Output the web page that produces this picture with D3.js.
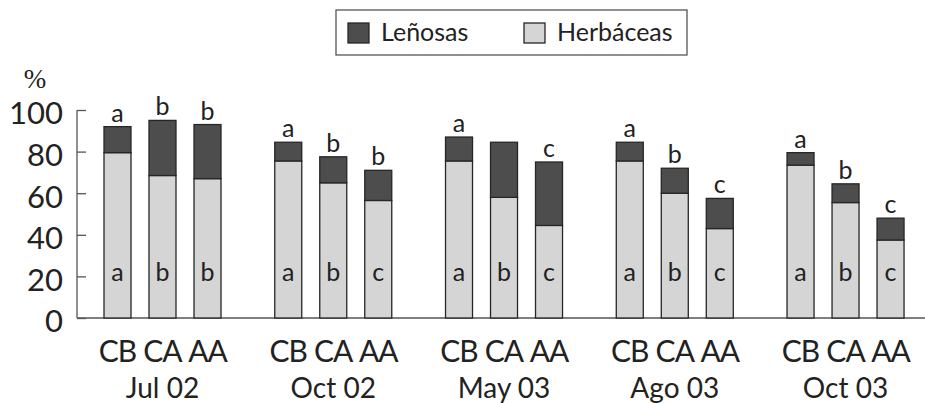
<!DOCTYPE html>
<html><head><meta charset="utf-8">
<script src="https://cdn.jsdelivr.net/npm/d3@7"></script>
<style>body{margin:0;background:#fff}svg{display:block}</style>
</head><body>
<svg id="c" width="925" height="403"></svg>
<script>
const groups = ["Jul 02","Oct 02","May 03","Ago 03","Oct 03"];
const treatments = ["CB","CA","AA"];
const herbaceas = [[79.5,68.5,67],[75.5,65,56.5],[75.5,58,44.5],[75.5,60,43],[73.5,55.5,37.5]];
const lenosas  = [[12.5,26.5,26],[9,12.5,14.5],[11.5,26.5,30.5],[9,12,14.5],[6,9,10.5]];
const topLetters = [["a","b","b"],["a","b","b"],["a","","c"],["a","b","c"],["a","b","c"]];
const inLetters  = [["a","b","b"],["a","b","c"],["a","b","c"],["a","b","c"],["a","b","c"]];
const yTicks = [0,20,40,60,80,100];
const seriesNames = ["Leñosas","Herbáceas"];

const DARK="#4d4d4d", LIGHT="#d5d5d5", EDGE="#262626";
const font="Lato, 'Open Sans', sans-serif";
const svg=d3.select("#c");

const y=d3.scaleLinear().domain([0,100]).range([318,110]);
const x0=d3.scaleBand().domain(groups).range([77.1,930.9]).padding(0);
const x1=d3.scaleBand().domain(treatments).range([17.9,152.9]).paddingInner(0.4).paddingOuter(0.2);

// y axis
const yAxis=d3.axisLeft(y).tickValues(yTicks).tickSize(-9).tickPadding(0).tickFormat(d3.format("d"));
const ga=svg.append("g").attr("transform","translate(77,0)").call(yAxis);
ga.select(".domain").attr("d",`M0,${y(100)}V${y(0)}`).attr("stroke","#555").attr("stroke-width",1.3);
ga.selectAll(".tick line").attr("stroke","#555").attr("stroke-width",1.3);
ga.selectAll(".tick text").attr("x",-14).attr("dy","0.45em").attr("font-family",font).attr("font-size",31).attr("fill","#222");

// baseline
svg.append("line").attr("x1",77).attr("x2",925).attr("y1",y(0)).attr("y2",y(0)).attr("stroke","#555").attr("stroke-width",1.5);

// bars
const data=[];
groups.forEach((g,i)=>treatments.forEach((t,j)=>data.push({g,t,h:herbaceas[i][j],l:lenosas[i][j],top:topLetters[i][j],inn:inLetters[i][j]})));
const gb=svg.append("g");
const bx=d=>x0(d.g)+x1(d.t);
gb.selectAll("rect.h").data(data).join("rect").attr("class","h")
  .attr("x",bx).attr("width",x1.bandwidth()).attr("y",d=>y(d.h)).attr("height",d=>y(0)-y(d.h))
  .attr("fill",LIGHT).attr("stroke",EDGE).attr("stroke-width",1.3);
gb.selectAll("rect.l").data(data).join("rect").attr("class","l")
  .attr("x",bx).attr("width",x1.bandwidth()).attr("y",d=>y(d.h+d.l)).attr("height",d=>y(d.h)-y(d.h+d.l))
  .attr("fill",DARK).attr("stroke",EDGE).attr("stroke-width",1.3);
gb.selectAll("text.top").data(data).join("text").attr("class","top")
  .attr("x",d=>bx(d)+x1.bandwidth()/2).attr("y",d=>y(d.h+d.l)-5).attr("text-anchor","middle")
  .attr("font-family",font).attr("font-size",25).attr("fill","#222").text(d=>d.top);
gb.selectAll("text.in").data(data).join("text").attr("class","in")
  .attr("x",d=>bx(d)+x1.bandwidth()/2).attr("y",281).attr("text-anchor","middle")
  .attr("font-family",font).attr("font-size",25).attr("fill","#222").text(d=>d.inn);

// x labels
const gx=svg.append("g");
data.forEach(d=>{
  gx.append("text").attr("x",bx(d)+x1.bandwidth()/2).attr("y",362).attr("text-anchor","middle")
   .attr("font-family",font).attr("font-size",30).attr("fill","#222").attr("letter-spacing",-1).text(d.t);
});
groups.forEach(g=>{
  gx.append("text").attr("x",x0(g)+x0.bandwidth()/2).attr("y",398).attr("text-anchor","middle")
   .attr("font-family",font).attr("font-size",28).attr("fill","#222").text(g);
});

// % label
svg.append("text").attr("x",35).attr("y",88).attr("text-anchor","middle")
  .attr("font-family","'Liberation Serif', serif").attr("font-size",27).attr("fill","#222").text("%");

// legend
const lg=svg.append("g");
lg.append("rect").attr("x",336).attr("y",10).attr("width",351).attr("height",45).attr("fill","#fff").attr("stroke","#555").attr("stroke-width",1.3);
const legX=[348,524], legFill=[DARK,LIGHT];
seriesNames.forEach((s,i)=>{
  lg.append("rect").attr("x",legX[i]).attr("y",23).attr("width",21).attr("height",20).attr("fill",legFill[i]).attr("stroke",EDGE).attr("stroke-width",1.3);
  lg.append("text").attr("x",legX[i]+33).attr("y",41).attr("font-family",font).attr("font-size",25).attr("fill","#222").text(s);
});
</script>
</body></html>
